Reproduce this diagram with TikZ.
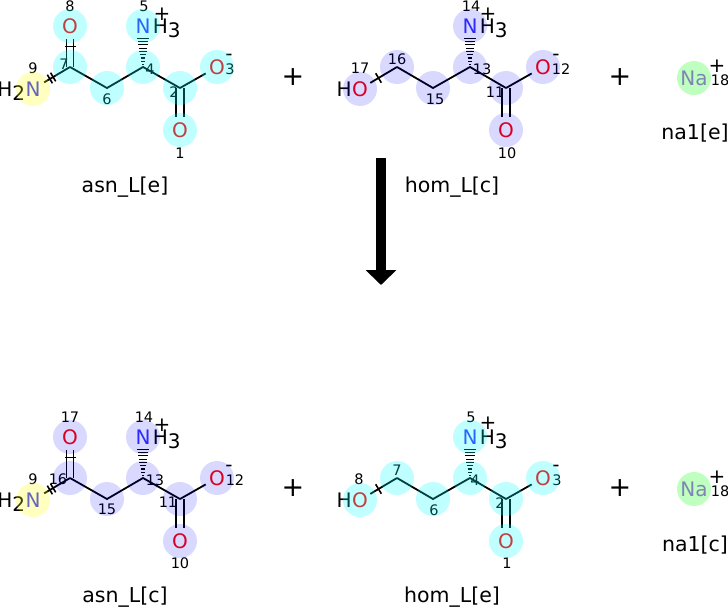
\documentclass[tikz,border=0pt]{standalone}
\usepackage{fontspec}
\setmainfont{DejaVu Sans}
\usetikzlibrary{arrows.meta,calc}
\definecolor{ocol}{RGB}{255,0,0}
\definecolor{ncol}{RGB}{51,51,255}
\definecolor{nacol}{RGB}{171,92,242}
\definecolor{hcyan}{RGB}{0,255,255}
\definecolor{hblue}{RGB}{0,0,255}
\definecolor{hyel}{RGB}{255,255,0}
\definecolor{hgreen}{RGB}{0,255,0}
\newcommand{\tkone}{\rule[-5.5pt]{1.6pt}{11pt}}
\newcommand{\tktwo}{\rule[-5pt]{1.6pt}{10pt}\hspace{2.2pt}\rule[-5pt]{1.6pt}{10pt}}
\begin{document}
\begin{tikzpicture}[x=1pt,y=-1pt,
	bond/.style={line width=1.8pt},
	hbond/.style={shorten >=13pt},
	hash/.style={line width=1.2pt},
	atm/.style={inner sep=0pt,font=\fontsize{20}{20}\selectfont},
	chg/.style={inner sep=0pt,font=\fontsize{20}{20}\selectfont},
	idx/.style={inner sep=0pt,font=\fontsize{14.5}{14.5}\selectfont},
	lbl/.style={inner sep=0pt,font=\fontsize{20.5}{20.5}\selectfont},
	pls/.style={inner sep=0pt,font=\fontsize{27}{27}\selectfont},
	tk/.style={sloped,inner sep=0pt},
	hlc/.style={fill=hcyan,fill opacity=0.25},
	hlb/.style={fill=hblue,fill opacity=0.15},
	hly/.style={fill=hyel,fill opacity=0.25},
	hlg/.style={fill=hgreen,fill opacity=0.25}]
\useasboundingbox[fill=white] (0,0) rectangle (728,608);
%					asn_L[e] :
\coordinate (ae-o1) at (180,130);
\coordinate (ae-c2) at (180,88);
\coordinate (ae-o3) at (217,67);
\coordinate (ae-c4) at (143,67);
\coordinate (ae-n5) at (143,26);
\coordinate (ae-c6) at (107,88);
\coordinate (ae-c7) at (70,67);
\coordinate (ae-o8) at (70,26);
\coordinate (ae-n9) at (33,89);
\draw[bond] (ae-c7) -- (ae-c6) -- (ae-c4) -- (ae-c2);
\draw[bond,hbond] (ae-c2) -- (ae-o3);
\draw[bond,hbond] ([xshift=-4pt]ae-c2) -- ([xshift=-4pt]ae-o1);
\draw[bond,hbond] ([xshift=4pt]ae-c2) -- ([xshift=4pt]ae-o1);
\draw[bond,hbond] ([xshift=-3.5pt]ae-c7) -- ([xshift=-3.5pt]ae-o8);
\draw[bond,hbond] ([xshift=3.5pt]ae-c7) -- ([xshift=3.5pt]ae-o8);
\draw[bond,hbond] (ae-c7) -- (ae-n9);
\path (ae-c7) -- (ae-o8) node[tk,midway] (ae-t1) {\tkone};
\path (ae-n9) -- (ae-c7) node[tk,midway] (ae-t2) {\tktwo};
\foreach \p in {0.06,0.14,...,0.72} {
	\pgfmathsetmacro\w{0.5+8*\p}
	\draw[hash] ($(ae-c4)!\p!(ae-n5)+(-\w,0)$) -- ($(ae-c4)!\p!(ae-n5)+(\w,0)$);
}
\node[atm,text=ocol] (ae-lo1) at (ae-o1) {O};
\node[atm,text=ocol] (ae-lo3) at (ae-o3) {O};
\node[atm,text=ocol] (ae-lo8) at (ae-o8) {O};
\node[atm,text=ncol] (ae-ln5) at (ae-n5) {N};
\node[atm,anchor=base west,xshift=2pt] (ae-lh5) at (ae-ln5.base east) {H\raisebox{-4pt}{3}};
\node[atm,text=ncol] (ae-ln9) at (ae-n9) {N};
\node[atm,anchor=base east] (ae-lh9) at (ae-ln9.base west) {H\raisebox{-4pt}{2}};
\node[chg] (ae-q5) at (162,14) {+};
\node[chg] (ae-q3) at (229,57) {-};
\node[idx] (ae-i1) at (180,153) {1};
\node[idx] (ae-i2) at (174,92) {2};
\node[idx] (ae-i3) at (230,69) {3};
\node[idx] (ae-i4) at (150,69) {4};
\node[idx] (ae-i5) at (144,6) {5};
\node[idx] (ae-i6) at (107,99) {6};
\node[idx] (ae-i7) at (64,64) {7};
\node[idx] (ae-i8) at (70,6) {8};
\node[idx] (ae-i9) at (33,68) {9};
\foreach \a in {o1,c2,o3,c4,n5,c6,c7,o8} \fill[hlc] (ae-\a) circle (17);
\fill[hly] (ae-n9) circle (17);
\node[lbl] (ae-name) at (125,187) {asn\_L[e]};
%					hom_L[c] :
\coordinate (hc-o10) at (506,130);
\coordinate (hc-c11) at (506,88);
\coordinate (hc-o12) at (543,67);
\coordinate (hc-c13) at (470,67);
\coordinate (hc-n14) at (470,26);
\coordinate (hc-c15) at (433,88);
\coordinate (hc-c16) at (397,67);
\coordinate (hc-o17) at (360,89);
\draw[bond] (hc-c16) -- (hc-c15) -- (hc-c13) -- (hc-c11);
\draw[bond,hbond] (hc-c11) -- (hc-o12);
\draw[bond,hbond] ([xshift=-4pt]hc-c11) -- ([xshift=-4pt]hc-o10);
\draw[bond,hbond] ([xshift=4pt]hc-c11) -- ([xshift=4pt]hc-o10);
\draw[bond,shorten >=12pt] (hc-c16) -- (hc-o17);
\path (hc-o17) -- (hc-c16) node[tk,midway] (hc-t1) {\tkone};
\foreach \p in {0.06,0.14,...,0.72} {
	\pgfmathsetmacro\w{0.5+8*\p}
	\draw[hash] ($(hc-c13)!\p!(hc-n14)+(-\w,0)$) -- ($(hc-c13)!\p!(hc-n14)+(\w,0)$);
}
\node[atm,text=ocol] (hc-lo10) at (hc-o10) {O};
\node[atm,text=ocol] (hc-lo12) at (hc-o12) {O};
\node[atm,text=ocol] (hc-lo17) at (hc-o17) {O};
\node[atm,anchor=base east] (hc-lh17) at (hc-lo17.base west) {H};
\node[atm,text=ncol] (hc-ln14) at (hc-n14) {N};
\node[atm,anchor=base west,xshift=2pt] (hc-lh14) at (hc-ln14.base east) {H\raisebox{-4pt}{3}};
\node[chg] (hc-q14) at (488,14) {+};
\node[chg] (hc-q12) at (556,57) {-};
\node[idx] (hc-i10) at (507,153) {10};
\node[idx] (hc-i11) at (495,92) {11};
\node[idx] (hc-i12) at (561,69) {12};
\node[idx] (hc-i13) at (482,69) {13};
\node[idx] (hc-i14) at (471,6) {14};
\node[idx] (hc-i15) at (435,99) {15};
\node[idx] (hc-i16) at (397,59) {16};
\node[idx] (hc-i17) at (360,68) {17};
\foreach \a in {o10,c11,o12,c13,n14,c15,c16,o17} \fill[hlb] (hc-\a) circle (17);
\node[lbl] (hc-name) at (452,187) {hom\_L[c]};
%					na1[e] :
\coordinate (ne-na) at (694,78);
\node[atm,text=nacol] (ne-lna) at (ne-na) {Na};
\node[chg] (ne-q) at (717,66) {+};
\node[idx] (ne-i) at (720,80) {18};
\fill[hlg] (ne-na) circle (17);
\node[lbl] (ne-name) at (695,133) {na1[e]};
%					Signes + :
\node[pls] (p1) at (293,77) {+};
\node[pls] (p2) at (620,77) {+};
\node[pls] (p3) at (293,488) {+};
\node[pls] (p4) at (620,488) {+};
%					Fleche :
\coordinate (ar-s) at (381,158);
\coordinate (ar-e) at (381,285);
\draw[line width=9.5pt,-{Triangle[width=30pt,length=15pt]}] (ar-s) -- (ar-e);
%					asn_L[c] :
\begin{scope}[shift={(0,411)}]
\coordinate (ac-o10) at (180,130);
\coordinate (ac-c11) at (180,88);
\coordinate (ac-o12) at (217,67);
\coordinate (ac-c13) at (143,67);
\coordinate (ac-n14) at (143,26);
\coordinate (ac-c15) at (107,88);
\coordinate (ac-c16) at (70,67);
\coordinate (ac-o17) at (70,26);
\coordinate (ac-n9) at (33,89);
\draw[bond] (ac-c16) -- (ac-c15) -- (ac-c13) -- (ac-c11);
\draw[bond,hbond] (ac-c11) -- (ac-o12);
\draw[bond,hbond] ([xshift=-4pt]ac-c11) -- ([xshift=-4pt]ac-o10);
\draw[bond,hbond] ([xshift=4pt]ac-c11) -- ([xshift=4pt]ac-o10);
\draw[bond,hbond] ([xshift=-3.5pt]ac-c16) -- ([xshift=-3.5pt]ac-o17);
\draw[bond,hbond] ([xshift=3.5pt]ac-c16) -- ([xshift=3.5pt]ac-o17);
\draw[bond,hbond] (ac-c16) -- (ac-n9);
\path (ac-c16) -- (ac-o17) node[tk,midway] (ac-t1) {\tkone};
\path (ac-n9) -- (ac-c16) node[tk,midway] (ac-t2) {\tktwo};
\foreach \p in {0.06,0.14,...,0.72} {
	\pgfmathsetmacro\w{0.5+8*\p}
	\draw[hash] ($(ac-c13)!\p!(ac-n14)+(-\w,0)$) -- ($(ac-c13)!\p!(ac-n14)+(\w,0)$);
}
\node[atm,text=ocol] (ac-lo10) at (ac-o10) {O};
\node[atm,text=ocol] (ac-lo12) at (ac-o12) {O};
\node[atm,text=ocol] (ac-lo17) at (ac-o17) {O};
\node[atm,text=ncol] (ac-ln14) at (ac-n14) {N};
\node[atm,anchor=base west,xshift=2pt] (ac-lh14) at (ac-ln14.base east) {H\raisebox{-4pt}{3}};
\node[atm,text=ncol] (ac-ln9) at (ac-n9) {N};
\node[atm,anchor=base east] (ac-lh9) at (ac-ln9.base west) {H\raisebox{-4pt}{2}};
\node[chg] (ac-q14) at (162,14) {+};
\node[chg] (ac-q12) at (229,57) {-};
\node[idx] (ac-i9) at (33,68) {9};
\node[idx] (ac-i10) at (180,152) {10};
\node[idx] (ac-i11) at (168,91) {11};
\node[idx] (ac-i12) at (235,69) {12};
\node[idx] (ac-i13) at (155,69) {13};
\node[idx] (ac-i14) at (144,6) {14};
\node[idx] (ac-i15) at (107,98) {15};
\node[idx] (ac-i16) at (58,68) {16};
\node[idx] (ac-i17) at (70,6) {17};
\foreach \a in {o10,c11,o12,c13,n14,c15,c16,o17} \fill[hlb] (ac-\a) circle (17);
\fill[hly] (ac-n9) circle (17);
\node[lbl] (ac-name) at (125,186) {asn\_L[c]};
\end{scope}
%					hom_L[e] :
\begin{scope}[shift={(0,411)}]
\coordinate (he-o1) at (506,130);
\coordinate (he-c2) at (506,88);
\coordinate (he-o3) at (543,67);
\coordinate (he-c4) at (470,67);
\coordinate (he-n5) at (470,26);
\coordinate (he-c6) at (433,88);
\coordinate (he-c7) at (397,67);
\coordinate (he-o8) at (360,89);
\draw[bond] (he-c7) -- (he-c6) -- (he-c4) -- (he-c2);
\draw[bond,hbond] (he-c2) -- (he-o3);
\draw[bond,hbond] ([xshift=-4pt]he-c2) -- ([xshift=-4pt]he-o1);
\draw[bond,hbond] ([xshift=4pt]he-c2) -- ([xshift=4pt]he-o1);
\draw[bond,shorten >=12pt] (he-c7) -- (he-o8);
\path (he-o8) -- (he-c7) node[tk,midway] (he-t1) {\tkone};
\foreach \p in {0.06,0.14,...,0.72} {
	\pgfmathsetmacro\w{0.5+8*\p}
	\draw[hash] ($(he-c4)!\p!(he-n5)+(-\w,0)$) -- ($(he-c4)!\p!(he-n5)+(\w,0)$);
}
\node[atm,text=ocol] (he-lo1) at (he-o1) {O};
\node[atm,text=ocol] (he-lo3) at (he-o3) {O};
\node[atm,text=ocol] (he-lo8) at (he-o8) {O};
\node[atm,anchor=base east] (he-lh8) at (he-lo8.base west) {H};
\node[atm,text=ncol] (he-ln5) at (he-n5) {N};
\node[atm,anchor=base west,xshift=2pt] (he-lh5) at (he-ln5.base east) {H\raisebox{-4pt}{3}};
\node[chg] (he-q5) at (488,12) {+};
\node[chg] (he-q3) at (556,57) {-};
\node[idx] (he-i1) at (507,152) {1};
\node[idx] (he-i2) at (500,92) {2};
\node[idx] (he-i3) at (557,69) {3};
\node[idx] (he-i4) at (475,69) {4};
\node[idx] (he-i5) at (471,6) {5};
\node[idx] (he-i6) at (434,99) {6};
\node[idx] (he-i7) at (397,59) {7};
\node[idx] (he-i8) at (359,68) {8};
\foreach \a in {o1,c2,o3,c4,n5,c6,c7,o8} \fill[hlc] (he-\a) circle (17);
\node[lbl] (he-name) at (452,186) {hom\_L[e]};
%					na1[c] :
\coordinate (nc-na) at (694,78);
\node[atm,text=nacol] (nc-lna) at (nc-na) {Na};
\node[chg] (nc-q) at (717,66) {+};
\node[idx] (nc-i) at (720,80) {18};
\fill[hlg] (nc-na) circle (17);
\node[lbl] (nc-name) at (695,134) {na1[c]};
\end{scope}
\end{tikzpicture}
\end{document}
